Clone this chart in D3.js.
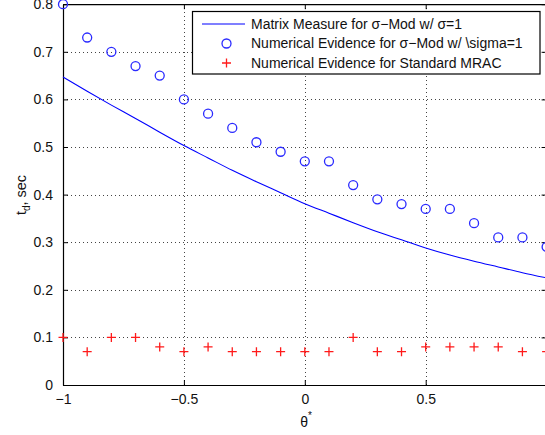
<!DOCTYPE html>
<html>
<head>
<meta charset="utf-8">
<script src="https://cdn.jsdelivr.net/npm/d3@7/dist/d3.min.js"></script>
<style>
  html, body { margin: 0; padding: 0; background: #fff; overflow: hidden; }
  svg { display: block; font-family: "Liberation Sans", Arial, Helvetica, sans-serif; }
</style>
</head>
<body>
<svg id="chart" width="545" height="435"></svg>
<script>
// θ* values (sampled every 0.1)
const theta = [-1, -0.9, -0.8, -0.7, -0.6, -0.5, -0.4, -0.3, -0.2, -0.1, 0,
               0.1, 0.2, 0.3, 0.4, 0.5, 0.6, 0.7, 0.8, 0.9, 1];
// Matrix measure prediction for σ-modification, σ = 1
const matrixMeasure = [0.647, 0.617, 0.588, 0.560, 0.531, 0.503, 0.477, 0.451, 0.427, 0.404, 0.381,
                       0.361, 0.341, 0.322, 0.305, 0.288, 0.273, 0.260, 0.248, 0.236, 0.225];
// Simulated t_d for σ-modification, σ = 1
const sigmaModEvidence = [0.80, 0.73, 0.70, 0.67, 0.65, 0.60, 0.57, 0.54, 0.51, 0.49, 0.47,
                          0.47, 0.42, 0.39, 0.38, 0.37, 0.37, 0.34, 0.31, 0.31, 0.29];
// Simulated t_d for standard MRAC
const standardEvidence = [0.10, 0.07, 0.10, 0.10, 0.08, 0.07, 0.08, 0.07, 0.07, 0.07, 0.07,
                          0.07, 0.10, 0.07, 0.07, 0.08, 0.08, 0.08, 0.08, 0.07, 0.07];
// labelled x ticks (the tick at 1 sits on the clipped right border)
const xTicks = [-1, -0.5, 0, 0.5];
const xGridTicks = [-0.5, 0, 0.5];
const yTicks = [0, 0.1, 0.2, 0.3, 0.4, 0.5, 0.6, 0.7, 0.8];
const legendLabels = [
  "Matrix Measure for σ−Mod w/ σ=1",
  "Numerical Evidence for σ−Mod w/ \\sigma=1",
  "Numerical Evidence for Standard MRAC"
];

const svg = d3.select("#chart");
const plotLeft = 63, plotRight = 546.6, plotTop = 4.2, plotBottom = 385;
const x = d3.scaleLinear().domain([-1, 1]).range([plotLeft, plotRight]);
const y = d3.scaleLinear().domain([0, 0.8]).range([plotBottom, plotTop]);
const fmt = v => (v === 0 ? "0" : String(v).replace("-", "−"));

// dotted grid
const grid = svg.append("g").attr("stroke", "#444").attr("stroke-width", 1)
  .attr("stroke-dasharray", "1,3").attr("fill", "none");
grid.selectAll("line.v").data(xGridTicks).enter().append("line")
  .attr("x1", d => Math.round(x(d)) + 0.5).attr("x2", d => Math.round(x(d)) + 0.5)
  .attr("y1", plotBottom).attr("y2", plotTop);
grid.selectAll("line.h").data(yTicks.filter(t => t > 0 && t < 0.8)).enter().append("line")
  .attr("y1", d => Math.round(y(d)) + 0.5).attr("y2", d => Math.round(y(d)) + 0.5)
  .attr("x1", plotLeft).attr("x2", plotRight);

// axes (ticks pointing inward, on all four sides)
const axisBottom = svg.append("g").attr("transform", `translate(0,${plotBottom})`)
  .call(d3.axisBottom(x).tickValues(xTicks).tickSizeInner(-5).tickSizeOuter(0).tickPadding(9).tickFormat(fmt));
const axisTop = svg.append("g").attr("transform", `translate(0,${plotTop})`)
  .call(d3.axisTop(x).tickValues(xTicks).tickSizeInner(-5).tickSizeOuter(0).tickFormat(""));
const axisLeft = svg.append("g").attr("transform", `translate(${plotLeft},0)`)
  .call(d3.axisLeft(y).tickValues(yTicks).tickSizeInner(-5).tickSizeOuter(0).tickPadding(10).tickFormat(fmt));
const axisRight = svg.append("g").attr("transform", `translate(${plotRight},0)`)
  .call(d3.axisRight(y).tickValues(yTicks).tickSizeInner(-5).tickSizeOuter(0).tickFormat(""));
[axisBottom, axisTop, axisLeft, axisRight].forEach(g => {
  g.select(".domain").attr("stroke", "#000").attr("stroke-width", 1.2);
  g.selectAll(".tick line").attr("stroke", "#000");
  g.selectAll("text").attr("font-size", 14).attr("fill", "#111")
    .attr("font-family", "'Liberation Sans', Arial, sans-serif");
});

// matrix measure curve
svg.append("path")
  .datum(theta.map((t, i) => [t, matrixMeasure[i]]))
  .attr("fill", "none").attr("stroke", "#0000ff").attr("stroke-width", 1.1)
  .attr("d", d3.line().x(d => x(d[0])).y(d => y(d[1])).curve(d3.curveMonotoneX));

// circles
svg.append("g").selectAll("circle")
  .data(theta.map((t, i) => [t, sigmaModEvidence[i]])).enter().append("circle")
  .attr("cx", d => x(d[0])).attr("cy", d => y(d[1])).attr("r", 4.5)
  .attr("fill", "none").attr("stroke", "#2a2aff").attr("stroke-width", 1.3);

// plus markers
const plus = (g, cx, cy, s) => {
  g.append("path").attr("d", `M${cx - s},${cy}H${cx + s}M${cx},${cy - s}V${cy + s}`)
    .attr("stroke", "#ff1a1a").attr("stroke-width", 1.3).attr("fill", "none");
};
const plusG = svg.append("g");
theta.forEach((t, i) => plus(plusG, x(t), y(standardEvidence[i]), 4.5));

// legend
const lg = svg.append("g");
lg.append("rect").attr("x", 192.5).attr("y", 11.5).attr("width", 347.5).attr("height", 62.5)
  .attr("fill", "#fff").attr("stroke", "#000").attr("stroke-width", 1.2);
const rowY = [24, 43.5, 63];
lg.append("line").attr("x1", 202).attr("x2", 245).attr("y1", rowY[0]).attr("y2", rowY[0])
  .attr("stroke", "#0000ff").attr("stroke-width", 1.1);
lg.append("circle").attr("cx", 226.5).attr("cy", rowY[1]).attr("r", 4.5)
  .attr("fill", "none").attr("stroke", "#2a2aff").attr("stroke-width", 1.3);
plus(lg, 226.5, rowY[2], 4.5);
lg.selectAll("text").data(legendLabels).enter().append("text")
  .attr("x", 251).attr("y", (d, i) => rowY[i]).attr("dy", "0.35em")
  .attr("font-size", 14).attr("fill", "#111").text(d => d);

// axis labels
const xl = svg.append("text").attr("x", 306).attr("y", 427).attr("text-anchor", "middle")
  .attr("font-size", 14).attr("fill", "#111");
xl.append("tspan").text("θ");
xl.append("tspan").attr("font-size", 10).attr("dy", -8).text("*");

const yl = svg.append("text").attr("transform", "translate(26,195) rotate(-90)")
  .attr("text-anchor", "middle").attr("font-size", 14.5).attr("fill", "#111");
yl.append("tspan").text("t");
yl.append("tspan").attr("font-size", 10).attr("dy", 4).text("d");
yl.append("tspan").attr("dy", -4).text(", sec");
</script>
</body>
</html>
